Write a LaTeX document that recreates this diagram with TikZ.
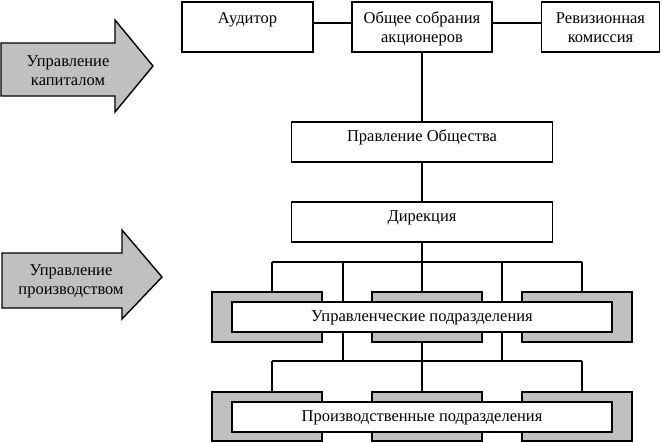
\documentclass[tikz,border=0pt]{standalone}
\usepackage{fontspec}
\setmainfont{Liberation Serif}
\usetikzlibrary{calc}
\definecolor{boxgrey}{HTML}{C0C0C0}
\begin{document}
\begin{tikzpicture}[x=1pt,y=-1pt,
  every node/.style={font=\fontsize{16.5}{19}\selectfont},
  wbox/.style={draw=black,line width=1.8pt,fill=white},
  gbox/.style={draw=black,line width=1.8pt,fill=boxgrey},
  bigarrow/.style={draw=black,line width=1.4pt,fill=boxgrey,line join=miter},
  conn/.style={draw=black,line width=1.3pt},
  txt/.style={anchor=base,inner sep=0pt,align=center}]
\useasboundingbox (0,0) rectangle (662,442);
\fill[white] (0,0) rectangle (662,442);

% big arrows
\draw[bigarrow] (1,43) -- (115,43) -- (115,20) -- (153,66) -- (115,112) -- (115,96) -- (1,96) -- cycle;
\node[txt] (a1) at (68,85) {Управление\\капиталом};
\draw[bigarrow] (2,253) -- (122,253) -- (122,230) -- (162,277) -- (122,319) -- (122,308) -- (2,308) -- cycle;
\node[txt] (a2) at (71,294) {Управление\\производством};

% top boxes
\node[wbox,inner sep=0pt,minimum width=131pt,minimum height=50pt] (aud) at (247.5,27) {};
\node[wbox,inner sep=0pt,minimum width=140pt,minimum height=50pt] (gen) at (422,27) {};
\node[wbox,inner sep=0pt,minimum width=118pt,minimum height=50pt] (rev) at (600.5,27) {};
\node[txt] (taud) at (247.5,23) {Аудитор};
\node[txt] (tgen) at (422,42) {Общее собрания\\акционеров};
\node[txt] (trev) at (600.5,42) {Ревизионная\\комиссия};

\node[wbox,inner sep=0pt,minimum width=261pt,minimum height=40pt] (prav) at (422,142) {};
\node[txt] (tprav) at (422,141) {Правление Общества};
\node[wbox,inner sep=0pt,minimum width=261pt,minimum height=40pt] (dir) at (422,222) {};
\node[txt] (tdir) at (422,221) {Дирекция};

% connectors top
\draw[conn] ($(aud.north east)!0.42!(aud.south east)$) -- ($(gen.north west)!0.42!(gen.south west)$);
\draw[conn] ($(gen.north east)!0.42!(gen.south east)$) -- ($(rev.north west)!0.42!(rev.south west)$);
\draw[conn] (gen.south) -- (prav.north);
\draw[conn] (prav.south) -- (dir.north);

% bus coordinates
\coordinate (b1) at (422,262);
\coordinate (b1l) at (272,262);
\coordinate (b1r) at (582,262);
\coordinate (b2) at (422,361);
\coordinate (b2l) at (272,361);
\coordinate (b2r) at (582,361);

% row 1
\node[gbox,inner sep=0pt,minimum width=110pt,minimum height=50pt] (g11) at (267,317) {};
\node[gbox,inner sep=0pt,minimum width=110pt,minimum height=50pt] (g12) at (427,317) {};
\node[gbox,inner sep=0pt,minimum width=110pt,minimum height=50pt] (g13) at (577,317) {};
\node[wbox,inner sep=0pt,minimum width=380pt,minimum height=30pt] (up) at (422,317) {};
\node[txt] (tup) at (422,321) {Управленческие подразделения};

% row 2
\node[gbox,inner sep=0pt,minimum width=110pt,minimum height=49pt] (g21) at (267,416.5) {};
\node[gbox,inner sep=0pt,minimum width=110pt,minimum height=49pt] (g22) at (427,416.5) {};
\node[gbox,inner sep=0pt,minimum width=110pt,minimum height=49pt] (g23) at (577,416.5) {};
\node[wbox,inner sep=0pt,minimum width=380pt,minimum height=30pt] (pr) at (422,417) {};
\node[txt] (tpr) at (422,421) {Производственные подразделения};

% connectors row 1
\draw[conn] (dir.south) -- (b1);
\draw[conn] (b1l) -- (b1r);
\draw[conn] (b1l) -- (b1l |- g11.north);
\draw[conn] (b1) -- (b1 |- g12.north);
\draw[conn] (b1r) -- (b1r |- g13.north);
\draw[conn] (b1l -| 343,0) -- (343,0 |- up.north);
\draw[conn] (b1l -| 502,0) -- (502,0 |- up.north);

% connectors row 2
\draw[conn] (343,0 |- up.south) -- (b2l -| 343,0);
\draw[conn] (502,0 |- up.south) -- (b2l -| 502,0);
\draw[conn] (b2 |- g12.south) -- (b2 |- g22.north);
\draw[conn] (b2l) -- (b2r);
\draw[conn] (b2l) -- (b2l |- g21.north);
\draw[conn] (b2r) -- (b2r |- g23.north);
\end{tikzpicture}
\end{document}
